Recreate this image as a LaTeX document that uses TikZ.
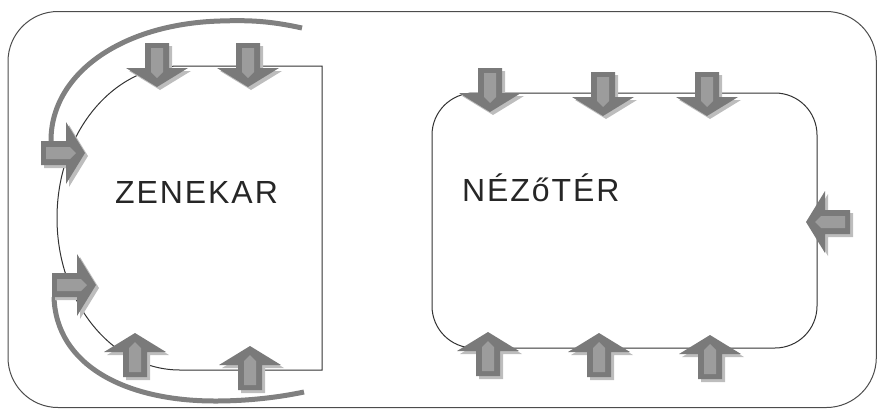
\documentclass[tikz,border=0pt]{standalone}
\usepackage{fontspec}
\newfontfamily\labfont[LetterSpace=6]{Liberation Sans}
\definecolor{arrowdark}{HTML}{7A7A7A}
\definecolor{arrowlight}{HTML}{9C9C9C}
\definecolor{arrowshade}{HTML}{BDBDBD}
\definecolor{arcgray}{HTML}{808080}
\tikzset{
  thinline/.style={draw=black!80, line width=1pt},
  framebox/.style={draw=black!70, line width=1pt},
  thickarc/.style={draw=arcgray, line width=5pt},
  hall/.style={font=\labfont\fontsize{32}{36}\selectfont, text=black!85, inner sep=0pt},
  barrowshape/.pic={
    \fill[pic actions] (-12,-44) -- (12,-44) -- (12,-19) -- (31,-19) -- (0,0) -- (-31,-19) -- (-12,-19) -- cycle;
  },
  barrowinner/.pic={
    \fill[arrowlight] (-6,-39) -- (6,-39) -- (6,-15) -- (0,-9) -- (-6,-15) -- cycle;
  }
}
\newcommand\BlockArrow[3]{%
  \pic[rotate=#3, fill=arrowshade] at (#1+3,#2+3) {barrowshape};
  \pic[rotate=#3, fill=arrowdark] at (#1,#2) {barrowshape};
  \pic[rotate=#3] at (#1,#2) {barrowinner};
}
\begin{document}
\begin{tikzpicture}[x=1pt,y=-1pt]
\useasboundingbox (0,0) rectangle (877,408);
% outer frame
\draw[framebox, rounded corners=50pt] (8,11.5) rectangle (876.3,407.5);
% orchestra pit
\draw[thinline] (322,66) -- (180,66) arc[start angle=-90, end angle=-270, x radius=123, y radius=152] -- (322,370) -- cycle;
% auditorium
\draw[thinline, rounded corners=42pt] (432,93) rectangle (817,348);
% thick gray arcs
\draw[thickarc] (302,28) .. controls (270,21) and (250,20) .. (220,21) .. controls (120,24) and (50,75) .. (51,142);
\draw[thickarc] (54,297) .. controls (56,365) and (125,401) .. (215,401) .. controls (250,401) and (280,397) .. (304,392);
% arrows: orchestra
\BlockArrow{157}{87}{0}
\BlockArrow{248}{87}{0}
\BlockArrow{85}{153}{90}
\BlockArrow{96}{285}{90}
\BlockArrow{135}{333}{180}
\BlockArrow{250}{346}{180}
% arrows: auditorium
\BlockArrow{490}{112}{0}
\BlockArrow{603}{116}{0}
\BlockArrow{707}{116}{0}
\BlockArrow{488}{332}{180}
\BlockArrow{599}{333}{180}
\BlockArrow{710}{335}{180}
\BlockArrow{806}{222}{-90}
% labels
\node[hall, anchor=base west] (zenekar) at (115,203) {ZENEKAR};
\node[hall, anchor=base west] (nezoter) at (462,201) {NÉZőTÉR};
\end{tikzpicture}
\end{document}
